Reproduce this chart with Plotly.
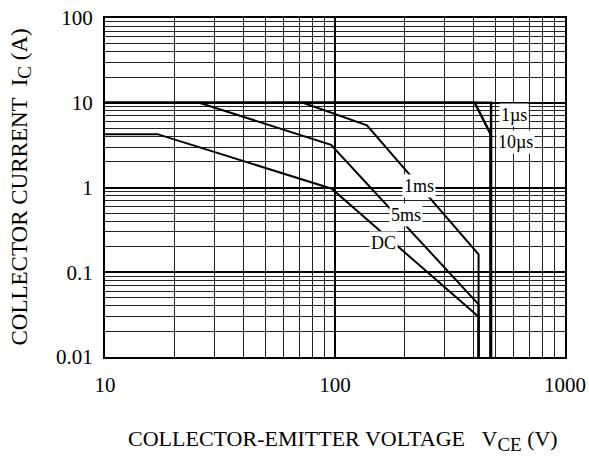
import plotly.graph_objects as go
import numpy as np

# Safe operating area curves (V_CE in volts, I_C in amperes)
dc_v = [10, 16.9, 96.8, 421, 421]
dc_i = [4.26, 4.26, 0.968, 0.0298, 0.01]

ms5_v = [25.7, 96.1, 421, 421]
ms5_i = [10, 3.18, 0.0418, 0.01]

ms1_v = [72.6, 137.7, 421, 421]
ms1_i = [10, 5.4, 0.163, 0.01]

us10_v = [10, 405, 474, 474]
us10_i = [10, 10, 4.3, 0.01]

us1_v = [10, 477, 477]
us1_i = [10, 10, 0.01]

# Curve labels: text, V_CE, I_C
label_text = ["1\u00b5s", "10\u00b5s", "1ms", "5ms", "DC"]
label_v = [600, 612, 232, 203, 163]
label_i = [7.2, 3.4, 1.04, 0.47, 0.22]

x_ticks = [10, 100, 1000]
x_tick_text = ["10", "100", "1000"]
y_ticks = [0.01, 0.1, 1, 10, 100]
y_tick_text = ["0.01", "0.1", "1", "10", "100"]

FONT = "Liberation Serif, Times New Roman, serif"

fig = go.Figure()

curves = [
    (us1_v, us1_i, 2.5),
    (us10_v, us10_i, 2.5),
    (ms1_v, ms1_i, 2),
    (ms5_v, ms5_i, 2),
    (dc_v, dc_i, 2),
]
for v, i, w in curves:
    fig.add_trace(go.Scatter(x=v, y=i, mode="lines",
                             line=dict(color="black", width=w),
                             showlegend=False, hoverinfo="skip"))

for t, v, i in zip(label_text, label_v, label_i):
    fig.add_annotation(x=np.log10(v), y=np.log10(i), text=t, showarrow=False,
                       font=dict(family=FONT, size=18, color="black"),
                       bgcolor="white", borderpad=1)

fig.add_annotation(xref="paper", yref="paper", x=0.5, y=0, yshift=-83, xshift=8,
                   text="COLLECTOR-EMITTER VOLTAGE&nbsp;&nbsp;&nbsp;V<sub><span style='font-size:19px'>CE</span></sub> (V)",
                   showarrow=False, xanchor="center", yanchor="middle",
                   font=dict(family=FONT, size=22, color="black"))
fig.add_annotation(xref="paper", yref="paper", x=0, xshift=-84, y=0.5,
                   text="COLLECTOR CURRENT  I<sub><span style='font-size:19px'>C</span></sub> (A)",
                   textangle=-90,
                   showarrow=False, xanchor="center", yanchor="middle",
                   font=dict(family=FONT, size=23, color="black"))

axis_common = dict(
    type="log", automargin=False,
    showline=True, linecolor="black", linewidth=2, mirror=True,
    showgrid=True, gridcolor="black", gridwidth=1.5,
    ticks="", zeroline=False,
    tickfont=dict(family=FONT, size=21, color="black"),
    minor=dict(dtick="D1", showgrid=True, gridcolor="#222222", gridwidth=1, ticks=""),
)

fig.update_xaxes(range=[1, 3], tickvals=x_ticks, ticktext=x_tick_text, ticklabelstandoff=8, **axis_common)
fig.update_yaxes(range=[-2, 2], tickvals=y_ticks, ticktext=y_tick_text, ticklabelstandoff=6, **axis_common)

fig.update_layout(
    width=589, height=463,
    margin=dict(l=104.5, r=23.5, t=17.5, b=106.3, autoexpand=False),
    paper_bgcolor="white", plot_bgcolor="white",
    font=dict(family=FONT, color="black"),
)

fig.write_html("out.html")
